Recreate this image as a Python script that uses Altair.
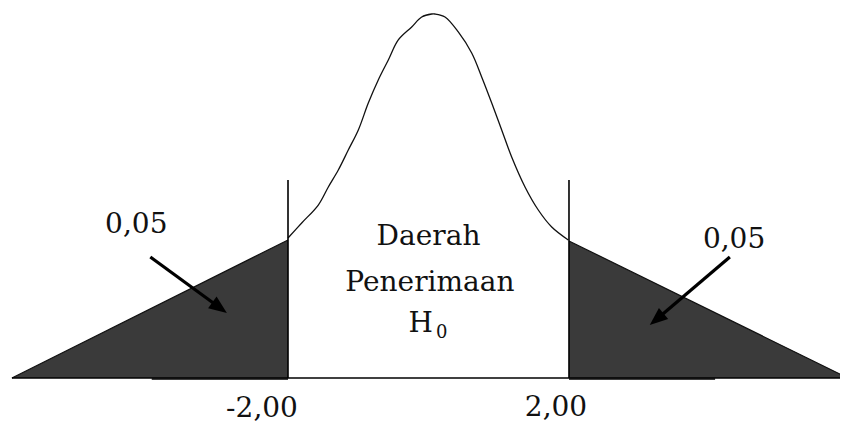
import altair as alt
import pandas as pd

# ---- data (x in z units, y in density units) ----
curve_x = [-2.00, -1.805, -1.569, -1.426, -1.284, -1.142, -0.999, -0.857, -0.715, -0.572,
           -0.430, -0.239, -0.097, 0.046, 0.093, 0.235, 0.424, 0.615, 0.757, 0.900,
           1.042, 1.184, 1.374, 1.563, 1.754, 1.99]
curve_y = [0.1543, 0.1708, 0.1906, 0.2105, 0.2292, 0.2512, 0.2733, 0.3030, 0.3284, 0.3504,
           0.3725, 0.3868, 0.3978, 0.4011, 0.4011, 0.3978, 0.3813, 0.3581, 0.3317, 0.3030,
           0.2733, 0.2435, 0.2105, 0.1851, 0.1664, 0.1521]

left_tail_x = [-5.93, -2.00]
left_tail_y = [0.0, 0.1521]
right_tail_x = [2.00, 5.97]
right_tail_y = [0.1510, 0.0]

critical_x = [-2.00, 2.00]
critical_top = [0.2182, 0.2182]
critical_labels = ["-2,00", "2,00"]
critical_label_x = [-2.37, 1.815]
critical_label_y = [-0.0430, -0.0419]

alpha_labels = ["0,05", "0,05"]
alpha_label_x = [-4.16, 4.35]
alpha_label_y = [0.1598, 0.1433]
arrow_x = [-3.96, 4.29]
arrow_y = [0.1333, 0.1333]
arrow_x2 = [-2.961, 3.240]
arrow_y2 = [0.0768, 0.0641]
arrow_tip_x = [-2.87, 3.15]
arrow_tip_y = [0.0716, 0.0584]
arrow_angle = [126, 230]

region_lines = ["Daerah", "Penerimaan"]
region_x = [0.0, 0.02]
region_y = [0.1466, 0.0959]
h_label = ["H"]
h_x = [-0.11]
h_y = [0.0507]
sub_label = ["0"]
sub_x = [0.19]
sub_y = [0.0441]

base_x = [-5.93]
base_x2 = [5.97]
thick_x = [-3.94, 2.00]
thick_x2 = [-2.00, 4.08]

# ---- scales ----
xs = alt.Scale(domain=[-5.986, 5.858], nice=False, zero=False)
ys = alt.Scale(domain=[-0.0496, 0.4077], nice=False, zero=False)
FILL = "#3a3a3a"
FONT = "DejaVu Serif"

def X(f):
    return alt.X(f, type="quantitative", scale=xs, axis=None)

def Y(f):
    return alt.Y(f, type="quantitative", scale=ys, axis=None)

left_df = pd.DataFrame({"x": left_tail_x, "y": left_tail_y, "z": [0.0] * len(left_tail_x)})
right_df = pd.DataFrame({"x": right_tail_x, "y": right_tail_y, "z": [0.0] * len(right_tail_x)})
left_area = alt.Chart(left_df).mark_area(color=FILL, opacity=1).encode(
    x=X("x"), y=Y("y"), y2="z")
right_area = alt.Chart(right_df).mark_area(color=FILL, opacity=1).encode(
    x=X("x"), y=Y("y"), y2="z")
left_edge = alt.Chart(left_df).mark_line(color="#111111", strokeWidth=1.2).encode(x=X("x"), y=Y("y"))
right_edge = alt.Chart(right_df).mark_line(color="#111111", strokeWidth=1.2).encode(x=X("x"), y=Y("y"))

curve_df = pd.DataFrame({"x": curve_x, "y": curve_y})
curve = alt.Chart(curve_df).mark_line(color="#111111", strokeWidth=1.3, interpolate="catmull-rom").encode(
    x=X("x"), y=Y("y"))

crit_df = pd.DataFrame({"x": critical_x, "top": critical_top, "z": [0.0, 0.0]})
crit = alt.Chart(crit_df).mark_rule(color="#000000", strokeWidth=1.6).encode(
    x=X("x"), y=Y("top"), y2="z")

base_df = pd.DataFrame({"x": base_x, "x2": base_x2, "y": [0.0]})
base = alt.Chart(base_df).mark_rule(color="#000000", strokeWidth=1.4).encode(
    x=X("x"), x2="x2", y=Y("y"))
thick_df = pd.DataFrame({"x": thick_x, "x2": thick_x2, "y": [-0.0011, -0.0011]})
thick = alt.Chart(thick_df).mark_rule(color="#000000", strokeWidth=1.6).encode(
    x=X("x"), x2="x2", y=Y("y"))

crit_lab_df = pd.DataFrame({"t": critical_labels, "x": critical_label_x, "y": critical_label_y})
crit_lab = alt.Chart(crit_lab_df).mark_text(font=FONT, fontSize=28, color="#111111",
                                            align="center", baseline="alphabetic").encode(
    x=X("x"), y=Y("y"), text="t:N")

alpha_df = pd.DataFrame({"t": alpha_labels, "x": alpha_label_x, "y": alpha_label_y})
alpha_lab = alt.Chart(alpha_df).mark_text(font=FONT, fontSize=28, color="#111111",
                                           align="center", baseline="alphabetic").encode(
    x=X("x"), y=Y("y"), text="t:N")

arrow_df = pd.DataFrame({"x": arrow_x, "y": arrow_y, "x2": arrow_x2, "y2": arrow_y2,
                         "tx": arrow_tip_x, "ty": arrow_tip_y, "a": arrow_angle})
shafts = alt.Chart(arrow_df).mark_rule(color="#000000", strokeWidth=3.2, strokeCap="butt").encode(
    x=X("x"), y=Y("y"), x2="x2", y2="y2")
heads = alt.Chart(arrow_df).mark_point(shape="M0,0L-0.4,1L0.4,1Z", filled=True, opacity=1,
                                       color="#000000", size=1296, strokeWidth=0).encode(
    x=X("tx"), y=Y("ty"), angle=alt.Angle("a:Q", scale=None))

region_df = pd.DataFrame({"t": region_lines, "x": region_x, "y": region_y})
region = alt.Chart(region_df).mark_text(font=FONT, fontSize=28, color="#111111",
                                        align="center", baseline="alphabetic").encode(
    x=X("x"), y=Y("y"), text="t:N")
h_df = pd.DataFrame({"t": h_label, "x": h_x, "y": h_y})
h_text = alt.Chart(h_df).mark_text(font=FONT, fontSize=28, color="#111111",
                                   align="center", baseline="alphabetic").encode(
    x=X("x"), y=Y("y"), text="t:N")
sub_df = pd.DataFrame({"t": sub_label, "x": sub_x, "y": sub_y})
sub_text = alt.Chart(sub_df).mark_text(font=FONT, fontSize=18, color="#111111",
                                       align="center", baseline="alphabetic").encode(
    x=X("x"), y=Y("y"), text="t:N")

chart = alt.layer(
    left_area, right_area, left_edge, right_edge, curve, base, thick, crit,
    shafts, heads, crit_lab, alpha_lab, region, h_text, sub_text
).properties(
    width=832, height=415, padding=0, autosize=alt.AutoSizeParams(type="none"),
    background="#ffffff"
).configure_view(stroke=None)

chart.save("out.html", embed_options={"renderer": "svg", "actions": False})
